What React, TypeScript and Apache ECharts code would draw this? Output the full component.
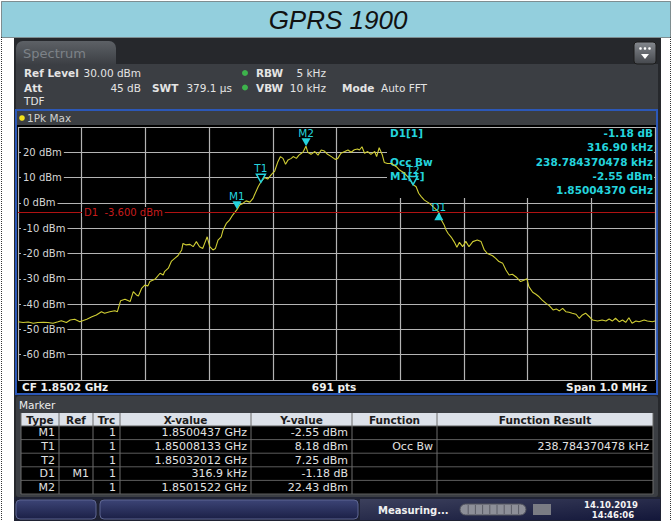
import React, { useEffect, useRef } from 'react';
import * as echarts from 'echarts';

// ---------------- data ----------------
const TITLE = 'GPRS 1900';
const START_GHZ = 1.8497;
const SPAN_KHZ = 1000;
const Y_MIN = -70;
const Y_MAX = 30;

// trace: frequency offset from start (kHz) and level (dBm)
const traceKHz = [
  0, 8, 16, 24, 31, 40, 47, 55, 63, 68, 76, 82, 89, 97, 108, 116, 123, 131, 136, 144,
  152, 156, 161, 168, 176, 181, 186, 189, 194, 199, 204, 207, 215, 223, 228, 230, 236, 241, 246, 251,
  257, 259, 264, 270, 275, 280, 285, 290, 293, 297, 301, 306, 310, 314, 319, 322, 327, 332, 337, 344,
  348, 353, 358, 364, 369, 371, 377, 381, 387, 392, 398, 403, 408, 412, 416, 420, 424, 429, 432, 437,
  441, 445, 448, 452, 455, 460, 466, 471, 476, 481, 486, 492, 498, 502, 507, 513, 518, 523, 528, 533,
  536, 540, 544, 549, 554, 560, 563, 567, 572, 575, 580, 586, 594, 599, 607, 614, 620, 625, 629, 633,
  638, 646, 654, 661, 664, 669, 672, 675, 680, 685, 689, 693, 698, 703, 708, 714, 721, 727, 732, 737,
  745, 750, 755, 761, 766, 771, 776, 783, 789, 795, 799, 802, 808, 813, 818, 823, 829, 834, 840, 845,
  850, 855, 860, 865, 870, 876, 881, 886, 891, 897, 902, 910, 917, 923, 928, 933, 938, 944, 949, 954,
  959, 964, 970, 975, 983, 988, 996, 1000,
];
const traceDBm = [
  -47.0, -47.3, -47.1, -47.6, -47.3, -47.2, -47.3, -47.6, -47.0, -46.6, -47.3, -46.3, -46.0, -47.0, -46.0, -45.0, -44.3, -43.0, -43.6, -43.0,
  -42.6, -43.0, -38.7, -38.1, -39.0, -35.1, -36.4, -36.8, -33.8, -32.5, -32.8, -31.1, -30.2, -27.8, -28.5, -27.2, -25.8, -23.0, -21.9, -20.9,
  -18.6, -16.0, -16.6, -16.4, -17.3, -15.3, -17.3, -18.0, -16.0, -13.4, -17.3, -18.6, -18.0, -14.7, -13.4, -10.7, -8.1, -6.8, -4.8, -2.55,
  -0.8, -0.2, 0.8, 0.3, 1.8, 3.0, 6.4, 8.18, 10.0, 9.4, 11.3, 12.6, 16.3, 18.3, 17.6, 15.3, 17.0, 17.6, 18.3, 17.6,
  18.9, 19.6, 20.3, 22.43, 20.0, 19.2, 20.3, 18.9, 20.9, 20.5, 19.2, 18.3, 17.2, 17.6, 19.6, 20.3, 20.9, 20.0, 21.0, 21.3,
  20.9, 22.2, 19.6, 20.3, 19.2, 20.3, 18.3, 21.8, 18.9, 16.0, 15.6, 15.6, 14.3, 13.0, 11.7, 9.7, 7.25, 6.4, 3.8, 2.5,
  1.1, -0.2, -2.1, -3.73, -6.5, -8.7, -10.7, -12.0, -13.5, -15.5, -17.5, -15.6, -17.3, -15.2, -17.3, -15.3, -14.7, -15.3, -18.6, -20.0,
  -20.9, -21.9, -23.2, -23.9, -26.5, -28.5, -28.2, -29.5, -31.1, -30.5, -30.0, -33.1, -35.3, -36.1, -37.1, -38.4, -39.7, -40.6, -42.3, -41.9,
  -42.7, -41.7, -43.0, -43.2, -43.6, -44.0, -45.6, -44.3, -43.6, -45.0, -46.3, -46.7, -46.3, -46.7, -45.9, -46.7, -45.6, -47.0, -46.3, -47.2,
  -45.4, -47.6, -46.7, -47.0, -46.3, -46.7, -47.0, -46.7,
];

const DISPLAY_LINE_DBM = -3.6;
const DISPLAY_LINE_LABEL = 'D1  -3.600 dBm';

// markers
const markerTypes = ['M1', 'T1', 'T2', 'D1', 'M2'];
const markerRefs = ['', '', '', 'M1', ''];
const markerTrcs = ['1', '1', '1', '1', '1'];
const markerXText = ['1.8500437 GHz', '1.85008133 GHz', '1.85032012 GHz', '316.9 kHz', '1.8501522 GHz'];
const markerYText = ['-2.55 dBm', '8.18 dBm', '7.25 dBm', '-1.18 dB', '22.43 dBm'];
const markerFunc = ['', 'Occ Bw', '', '', ''];
const markerFuncResult = ['', '238.784370478 kHz', '', '', ''];
const markerFreqGHz = [1.8500437, 1.85008133, 1.85032012, 0, 1.8501522];
const markerLevels = [-2.55, 8.18, 7.25, 0, 22.43];
const deltaKHz = 316.9;
const deltaDB = -1.18;

const infoLeft = ['D1[1]', '', 'Occ Bw', 'M1[1]', ''];
const infoRight = ['-1.18 dB', '316.90 kHz', '238.784370478 kHz', '-2.55 dBm', '1.85004370 GHz'];

const tableHeaders = ['Type', 'Ref', 'Trc', 'X-value', 'Y-value', 'Function', 'Function Result'];

const paramRow1 = { refLevel: '30.00 dBm', rbw: '5 kHz' };
const paramRow2 = { att: '45 dB', swt: '379.1 µs', vbw: '10 kHz', mode: 'Auto FFT' };
const footer = { cf: 'CF 1.8502 GHz', pts: '691 pts', span: 'Span 1.0 MHz' };
const statusTexts = { state: 'Measuring...', date: '14.10.2019', time: '14:46:06' };

// ---------------- styling ----------------
const FONT = '"DejaVu Sans", Verdana, sans-serif';
const CYAN = '#24d3dd';
const TRACE = '#cfcd34';
const GRIDLINE = '#b4b4b4';

function txt(x: number, y: number, text: string, o: any = {}) {
  const align = o.align ?? 'left';
  const style: any = {
    text,
    fill: o.color ?? '#e4e4e4',
    font: `${o.italic ? 'italic ' : ''}${o.bold ? 'bold ' : ''}${o.size ?? 10.5}px ${o.family ?? FONT}`,
    align,
    textAlign: align,
    verticalAlign: 'middle',
    textVerticalAlign: 'middle',
  };
  if (o.bg) {
    style.backgroundColor = o.bg;
    style.padding = o.pad ?? [0, 2];
  }
  return { type: 'text', x, y, z: o.z ?? -1, silent: true, style };
}

function rect(x: number, y: number, w: number, h: number, style: any, r: any = 0, z = -1) {
  return { type: 'rect', z, silent: true, shape: { x, y, width: w, height: h, r }, style };
}

function vgrad(a: string, b: string) {
  return new echarts.graphic.LinearGradient(0, 0, 0, 1, [
    { offset: 0, color: a },
    { offset: 1, color: b },
  ]);
}

function buildGraphics() {
  const els: any[] = [];
  // title bar and dotted page border
  els.push(rect(1.5, 1.5, 669, 36, { fill: '#93cfdd', stroke: '#333', lineWidth: 1, lineDash: [1, 1] }));
  els.push({ type: 'line', z: -1, silent: true, shape: { x1: 1.5, y1: 37, x2: 1.5, y2: 521 }, style: { stroke: '#333', lineDash: [1, 1] } });
  els.push({ type: 'line', z: -1, silent: true, shape: { x1: 670.5, y1: 37, x2: 670.5, y2: 521 }, style: { stroke: '#333', lineDash: [1, 1] } });
  els.push(txt(338, 20, TITLE, { size: 26, italic: true, family: '"Liberation Sans", Arial, sans-serif', color: '#111', align: 'center' }));

  // instrument panel
  els.push(rect(14, 38, 647, 483, { fill: '#26282c' }));
  els.push(rect(16, 64, 642, 46, { fill: '#3b3e43' }));
  els.push(rect(16, 41, 100, 24, { fill: vgrad('#5d6166', '#3b3e43') }, [7, 7, 0, 0]));
  els.push(txt(23, 53, 'Spectrum', { size: 13, color: '#7d8288' }));
  els.push(rect(634, 42, 22, 22, { fill: vgrad('#84888e', '#45484d'), stroke: '#1c1c1c', lineWidth: 1 }, 3));
  [640.5, 645, 649.5].forEach((cx) =>
    els.push({ type: 'circle', z: -1, silent: true, shape: { cx, cy: 48.5, r: 1.3 }, style: { fill: '#fff' } })
  );
  els.push({ type: 'polygon', z: -1, silent: true, shape: { points: [[641, 54], [649, 54], [645, 59]] }, style: { fill: '#fff' } });

  // parameters
  els.push(txt(24, 73, 'Ref Level', { bold: true }));
  els.push(txt(141, 73, paramRow1.refLevel, { align: 'right' }));
  els.push({ type: 'circle', z: -1, silent: true, shape: { cx: 245, cy: 73, r: 3 }, style: { fill: '#3db34c' } });
  els.push(txt(256, 73, 'RBW', { bold: true }));
  els.push(txt(326, 73, paramRow1.rbw, { align: 'right' }));
  els.push(txt(24, 87.5, 'Att', { bold: true }));
  els.push(txt(141, 87.5, paramRow2.att, { align: 'right' }));
  els.push(txt(152, 87.5, 'SWT', { bold: true }));
  els.push(txt(232, 87.5, paramRow2.swt, { align: 'right' }));
  els.push({ type: 'circle', z: -1, silent: true, shape: { cx: 245, cy: 87.5, r: 3 }, style: { fill: '#3db34c' } });
  els.push(txt(256, 87.5, 'VBW', { bold: true }));
  els.push(txt(326, 87.5, paramRow2.vbw, { align: 'right' }));
  els.push(txt(342, 87.5, 'Mode', { bold: true }));
  els.push(txt(381, 87.5, paramRow2.mode));
  els.push(txt(24, 101, 'TDF'));

  // trace window
  els.push(rect(16, 110, 641, 284, { fill: '#000', stroke: '#2c58b8', lineWidth: 2 }));
  els.push(rect(17, 111, 639, 14, { fill: '#3b3e42' }));
  els.push({ type: 'circle', z: -1, silent: true, shape: { cx: 22, cy: 118, r: 2.8 }, style: { fill: '#f2e21a' } });
  els.push(txt(27, 118, '1Pk Max', { color: '#d0d0d0' }));
  els.push(txt(22, 387, footer.cf, { bold: true, color: '#f0f0f0' }));
  els.push(txt(334, 387, footer.pts, { bold: true, color: '#f0f0f0', align: 'center' }));
  els.push(txt(647, 387, footer.span, { bold: true, color: '#f0f0f0', align: 'right' }));

  // marker info box (covers grid, below trace)
  els.push(rect(387, 128, 267, 70, { fill: '#000' }, 0, 1));
  for (let i = 0; i < 5; i++) {
    const y = 133 + i * 14.3;
    if (infoLeft[i]) els.push(txt(390, y, infoLeft[i], { bold: true, color: CYAN, z: 1 }));
    els.push(txt(653, y, infoRight[i], { bold: true, color: CYAN, z: 1, align: 'right' }));
  }

  // display line label
  els.push(txt(82, 212, DISPLAY_LINE_LABEL, { color: '#c81c1c', size: 10, bg: '#000', pad: [0, 2], z: 6 }));

  // marker table
  els.push(rect(16, 396, 642, 101, { fill: '#3b3e43' }, 3));
  els.push(txt(19, 404.5, 'Marker', { color: '#ececec' }));
  const cols = [21, 59, 93, 120, 251, 352, 437, 653];
  els.push(rect(21, 413, 632, 13, { fill: '#dce1e9' }));
  els.push(rect(21, 426, 632, 68, { fill: '#000' }));
  const rowH = 13.6;
  for (let r = 0; r <= 5; r++) {
    const y = 426 + r * rowH;
    els.push({ type: 'line', z: -1, silent: true, shape: { x1: 21, y1: y, x2: 653, y2: y }, style: { stroke: '#5c5c5c', lineWidth: 1 } });
  }
  cols.forEach((x) =>
    els.push({ type: 'line', z: -1, silent: true, shape: { x1: x, y1: 413, x2: x, y2: 494 }, style: { stroke: '#6c6c6c', lineWidth: 1 } })
  );
  tableHeaders.forEach((h, i) =>
    els.push(txt((cols[i] + cols[i + 1]) / 2, 419.5, h, { bold: true, color: '#1c1c1c', align: 'center' }))
  );
  const columnsData = [markerTypes, markerRefs, markerTrcs, markerXText, markerYText, markerFunc, markerFuncResult];
  for (let r = 0; r < 5; r++) {
    const y = 426 + r * rowH + rowH / 2;
    columnsData.forEach((col, c) => {
      if (col[r]) els.push(txt(cols[c + 1] - 4, y, col[r], { size: 11, color: '#e2e2e2', align: 'right' }));
    });
  }

  // status bar
  els.push(rect(14, 497, 647, 24, { fill: '#1f2233' }));
  els.push(rect(16, 500, 80, 19, { fill: vgrad('#3c4476', '#1b2046'), stroke: '#5d6591', lineWidth: 1 }, 4));
  els.push(rect(100, 500, 258, 19, { fill: vgrad('#3c4476', '#1b2046'), stroke: '#5d6591', lineWidth: 1 }, 4));
  els.push(rect(360, 499, 300, 21, {
    fill: new echarts.graphic.LinearGradient(0, 0, 1, 1, [
      { offset: 0, color: '#3c405c' },
      { offset: 1, color: '#13173a' },
    ]),
  }));
  els.push(txt(378, 510, statusTexts.state, { bold: true, size: 10, color: '#f0f0f0' }));
  els.push(rect(460, 504, 66, 11, { fill: '#8d8f98', stroke: '#50525c', lineWidth: 1 }, 5.5));
  for (let k = 1; k < 9; k++) {
    const x = 461 + k * 7.2;
    els.push({ type: 'line', z: -1, silent: true, shape: { x1: x, y1: 505, x2: x, y2: 514 }, style: { stroke: '#5a5c66', lineWidth: 1 } });
  }
  els.push(rect(533, 504, 18, 11, { fill: '#7a7c84' }));
  els.push(txt(611, 505, statusTexts.date, { bold: true, size: 8.5, color: '#f4f4f4', align: 'center' }));
  els.push(txt(613, 515, statusTexts.time, { bold: true, size: 8.5, color: '#f4f4f4', align: 'center' }));
  return els;
}

const DOWN = 'path://M0,0L10,0L5,9Z';

function buildMarkers() {
  const d1Freq = markerFreqGHz[0] + deltaKHz / 1e6;
  const d1Level = markerLevels[0] + deltaDB;
  return markerTypes.map((name, i) => {
    const f = name === 'D1' ? d1Freq : markerFreqGHz[i];
    const lvl = name === 'D1' ? d1Level : markerLevels[i];
    const x = (f - START_GHZ) * 1e6;
    const isDelta = name.startsWith('D');
    const hollow = name.startsWith('T');
    return {
      name,
      coord: [x, lvl],
      symbol: isDelta ? 'triangle' : DOWN,
      symbolSize: [9, 8],
      symbolOffset: [0, isDelta ? '50%' : '-50%'],
      itemStyle: hollow
        ? { color: '#000', borderColor: CYAN, borderWidth: 1.5 }
        : { color: CYAN, borderWidth: 0 },
      label: {
        show: true,
        formatter: name,
        position: 'top',
        distance: 0,
        color: CYAN,
        fontSize: 10.5,
        fontFamily: FONT,
      },
    };
  });
}

export default function App() {
  const ref = useRef<HTMLDivElement>(null);
  useEffect(() => {
    if (!ref.current) return;
    const chart = echarts.init(ref.current, undefined, { renderer: 'svg' });
    const data = traceKHz.map((k, i) => [k, traceDBm[i]]);
    chart.setOption({
      animation: false,
      backgroundColor: '#ffffff',
      grid: { left: 18, top: 127, width: 637, height: 253 },
      xAxis: {
        type: 'value',
        min: 0,
        max: SPAN_KHZ,
        interval: 100,
        axisLine: { show: false },
        axisTick: { show: false },
        axisLabel: { show: false },
        splitLine: { show: true, lineStyle: { color: GRIDLINE, width: 1.2 } },
      },
      yAxis: {
        type: 'value',
        min: Y_MIN,
        max: Y_MAX,
        interval: 10,
        axisLine: { show: false },
        axisTick: { show: false },
        axisLabel: {
          inside: true,
          margin: 3,
          showMinLabel: false,
          showMaxLabel: false,
          formatter: (v: number) => `${v} dBm`,
          color: '#d6d6d6',
          fontSize: 10,
          fontFamily: FONT,
          backgroundColor: '#000',
          padding: [0, 2],
        },
        splitLine: { show: true, lineStyle: { color: GRIDLINE, width: 1.2 } },
      },
      series: [
        {
          type: 'line',
          data,
          showSymbol: false,
          symbol: 'none',
          silent: true,
          z: 2,
          lineStyle: { color: TRACE, width: 1.1 },
          markLine: {
            silent: true,
            symbol: ['none', 'none'],
            label: { show: false },
            lineStyle: { color: '#b01212', width: 1, type: 'solid' },
            data: [{ yAxis: DISPLAY_LINE_DBM }],
          },
          markPoint: {
            silent: true,
            data: buildMarkers(),
          },
        },
      ],
      graphic: { elements: buildGraphics() },
    });
    return () => chart.dispose();
  }, []);
  return <div ref={ref} style={{ position: 'fixed', left: 0, top: 0, width: 672, height: 521 }} />;
}
